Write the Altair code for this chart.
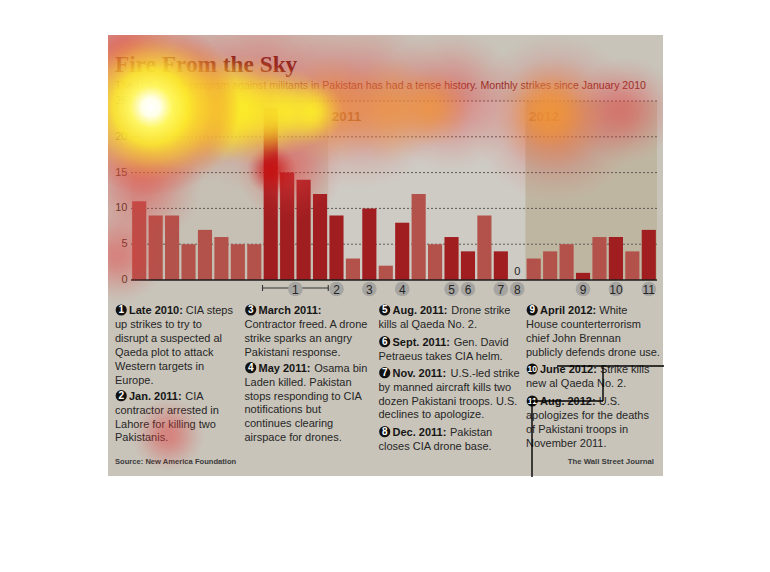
import math
import altair as alt
import pandas as pd

# ---------------- data ----------------
month_names = ["Jan", "Feb", "Mar", "Apr", "May", "Jun", "Jul", "Aug", "Sep", "Oct", "Nov", "Dec"]
months = [f"{m} {y}" for y in (2010, 2011, 2012) for m in month_names][:32]
strikes = [11, 9, 9, 5, 7, 6, 5, 5, 24, 15, 14, 12,
           9, 3, 10, 2, 8, 12, 5, 6, 4, 9, 4, 0,
           3, 4, 5, 1, 6, 6, 4, 7]
event_months = ["Sep 2010", "Oct 2010", "Nov 2010", "Dec 2010", "Jan 2011", "Mar 2011",
                "May 2011", "Aug 2011", "Sep 2011", "Nov 2011", "Dec 2011",
                "Apr 2012", "Jun 2012", "Aug 2012"]
years = ["2010", "2011", "2012"]
year_first = ["Jan 2010", "Jan 2011", "Jan 2012"]
year_last = ["Dec 2010", "Dec 2011", "Aug 2012"]
year_colors = ["#c6c0b4", "#cecbc4", "#bfb6a2"]
y_ticks = [0, 5, 10, 15, 20, 25]
marker_labels = [str(k) for k in range(1, 12)]
marker_start = ["Sep 2010", "Jan 2011", "Mar 2011", "May 2011", "Aug 2011", "Sep 2011",
                "Nov 2011", "Dec 2011", "Apr 2012", "Jun 2012", "Aug 2012"]
marker_end = ["Dec 2010", "Jan 2011", "Mar 2011", "May 2011", "Aug 2011", "Sep 2011",
              "Nov 2011", "Dec 2011", "Apr 2012", "Jun 2012", "Aug 2012"]

title_text = "Fire From the Sky"
subtitle_text = ("The U.S. drone program against militants in Pakistan has had a tense history. "
                 "Monthly strikes since January 2010")
source_text = "Source: New America Foundation"
credit_text = "The Wall Street Journal"

note_numbers = ["1", "2", "3", "4", "5", "6", "7", "8", "9", "10", "11"]
note_column = [0, 0, 1, 1, 2, 2, 2, 2, 3, 3, 3]
note_heads = ["Late 2010:", "Jan. 2011:", "March 2011:", "May 2011:", "Aug. 2011:",
              "Sept. 2011:", "Nov. 2011:", "Dec. 2011:", "April 2012:", "June 2012:", "Aug. 2012:"]
note_first = ["CIA steps", "CIA", "", "Osama bin", "Drone strike", "Gen. David",
              "U.S.-led strike", "Pakistan", "White", "Strike kills", "U.S."]
note_rest = [
    ["up strikes to try to", "disrupt a suspected al", "Qaeda plot to attack",
     "Western targets in", "Europe."],
    ["contractor arrested in", "Lahore for killing two", "Pakistanis."],
    ["Contractor freed. A drone", "strike sparks an angry", "Pakistani response."],
    ["Laden killed. Pakistan", "stops responding to CIA", "notifications but",
     "continues clearing", "airspace for drones."],
    ["kills al Qaeda No. 2."],
    ["Petraeus takes CIA helm."],
    ["by manned aircraft kills two", "dozen Pakistani troops. U.S.", "declines to apologize."],
    ["closes CIA drone base."],
    ["House counterterrorism", "chief John Brennan", "publicly defends drone use."],
    ["new al Qaeda No. 2."],
    ["apologizes for the deaths", "of Pakistani troops in", "November 2011."],
]

# ---------------- styling / layout ----------------
PW, PH = 555, 441          # panel (plot area)
PANEL = "#c8c4ba"
DARK, LIGHT = "#a01d20", "#b3524b"
SANS = "Liberation Sans, Arial, sans-serif"
SERIF = "Liberation Serif, Times New Roman, serif"
TXT = "#262626"

X = alt.Scale(domain=[0, 32], range=[23, 549])
Y = alt.Scale(domain=[0, 25], range=[245, 66])

col_x = [7, 136.5, 270.5, 418]
note_top = [310, 395.7, 310, 367.7, 310, 341.7, 372.7, 431.7, 310, 369, 401]  # line centres (page)
LINE = 13.9
FS = 11

HB = {'A': 722, 'B': 722, 'C': 722, 'D': 722, 'E': 667, 'F': 611, 'G': 778, 'H': 722, 'I': 278,
      'J': 556, 'K': 722, 'L': 611, 'M': 833, 'N': 722, 'O': 778, 'P': 667, 'Q': 778, 'R': 722,
      'S': 667, 'T': 611, 'U': 722, 'V': 667, 'W': 944, 'X': 667, 'Y': 667, 'Z': 611,
      'a': 556, 'b': 611, 'c': 556, 'd': 611, 'e': 556, 'f': 333, 'g': 611, 'h': 611, 'i': 278,
      'j': 278, 'k': 556, 'l': 278, 'm': 889, 'n': 611, 'o': 611, 'p': 611, 'q': 611, 'r': 389,
      's': 556, 't': 333, 'u': 611, 'v': 556, 'w': 778, 'x': 556, 'y': 556, 'z': 500,
      ' ': 278, '.': 278, ':': 333, ',': 278, '-': 333}
for d in "0123456789":
    HB[d] = 556


def bold_width(s, size):
    return sum(HB.get(c, 556) for c in s) / 1000.0 * size


# heat-map blobs (page pixel coords of centre, radius)
blob_kind = (["red"] * 11 + ["core"] + ["orange"] * 6 + ["yellow"] * 5 + ["hot"])
blob_px = [160, 260, 360, 450, 555, 625, 140, 290, 168, 118, 120,
           272,
           255, 330, 390, 432, 552, 548,
           190, 218, 245, 285, 312,
           151]
blob_py = [100, 92, 100, 100, 118, 110, 185, 170, 435, 255, 45,
           170,
           112, 110, 110, 108, 115, 112,
           108, 109, 110, 111, 112,
           107]
blob_r = [110, 115, 100, 80, 95, 60, 70, 60, 42, 55, 60,
          28,
          60, 62, 60, 45, 64, 42,
          75, 60, 62, 50, 36,
          100]

# stray black trace lines (panel pixel coords)
trace_x = [449, 495, 424, 424]
trace_x2 = [556, 495, 495, 424]
trace_y = [331, 331, 366, 366]
trace_y2 = [331, 366, 366, 442]

# ---------------- tables ----------------
idx = {m: i for i, m in enumerate(months)}
bars_df = pd.DataFrame({
    "month": months, "i": range(len(months)), "strikes": strikes,
    "kind": ["event" if m in event_months else "other" for m in months],
})
bars_df["x0"] = bars_df["i"] + 0.07
bars_df["x1"] = bars_df["i"] + 0.93
bars_df["zero"] = 0

bands_df = pd.DataFrame({
    "year": years,
    "x0": [idx[m] for m in year_first],
    "x1": [idx[m] + 1 for m in year_last],
    "c": year_colors, "y0": 0, "y1": 25,
})
bands_df["lx"] = bands_df["x0"] + 0.22
bands_df["ly"] = 22.8

ticks_df = pd.DataFrame({"t": y_ticks, "lab": [str(t) for t in y_ticks]})

mk_df = pd.DataFrame({
    "lab": marker_labels,
    "cx": [(idx[a] + idx[b] + 1) / 2 for a, b in zip(marker_start, marker_end)],
    "a": [idx[a] for a in marker_start],
    "b": [idx[b] + 1 for b in marker_end],
})
bracket_df = mk_df[mk_df["b"] - mk_df["a"] > 1]

zero_df = bars_df[bars_df["strikes"] == 0].copy()
zero_df["cx"] = zero_df["i"] + 0.5
zero_df["ly"] = 1.15

heads, firsts, rests, circles = [], [], [], []
for k in range(len(note_numbers)):
    cx = col_x[note_column[k]]
    cy = note_top[k] - 35
    circles.append({"x": cx + 6.2, "y": cy, "n": note_numbers[k],
                    "fs": 10 if len(note_numbers[k]) == 1 else 8.5})
    heads.append({"x": cx + 14, "y": cy + 4, "t": note_heads[k]})
    if note_first[k]:
        firsts.append({"x": cx + 14 + bold_width(note_heads[k] + " ", FS), "y": cy + 4,
                       "t": note_first[k]})
    for j, line in enumerate(note_rest[k]):
        rests.append({"x": cx, "y": cy + 4 + LINE * (j + 1), "t": line})
circ_df = pd.DataFrame(circles)
head_df = pd.DataFrame(heads)
reg_df = pd.DataFrame(firsts + rests)

blob_df = pd.DataFrame({"kind": blob_kind, "x": blob_px, "y": blob_py, "r": blob_r})
blob_df["x"] = blob_df["x"] - 108
blob_df["y"] = blob_df["y"] - 35
blob_df["s"] = math.pi * blob_df["r"] ** 2
trace_df = pd.DataFrame({"x": trace_x, "x2": trace_x2, "y": trace_y, "y2": trace_y2})

one = pd.DataFrame({"a": [0]})

# ---------------- layers ----------------
def px(field):
    return alt.X(field, scale=None, axis=None)


def py(field):
    return alt.Y(field, scale=None, axis=None)


bands = alt.Chart(bands_df).mark_rect().encode(
    x=alt.X("x0:Q", scale=X, axis=None), x2="x1:Q",
    y=alt.Y("y0:Q", scale=Y, axis=None), y2="y1:Q",
    color=alt.Color("c:N", scale=None),
)
grid = alt.Chart(ticks_df[ticks_df["t"] > 0]).mark_rule(
    color="#5e5a55", strokeDash=[2, 2], strokeWidth=1).encode(
    y=alt.Y("t:Q", scale=Y, axis=None), x=alt.value(23), x2=alt.value(549))
bars = alt.Chart(bars_df).mark_rect().encode(
    x=alt.X("x0:Q", scale=X, axis=None), x2="x1:Q",
    y=alt.Y("strikes:Q", scale=Y, axis=None), y2="zero:Q",
    color=alt.Color("kind:N", scale=alt.Scale(domain=["event", "other"], range=[DARK, LIGHT]),
                    legend=None),
)
baseline = alt.Chart(ticks_df[ticks_df["t"] == 0]).mark_rule(
    color="#1c1c1c", strokeWidth=1.6).encode(
    y=alt.Y("t:Q", scale=Y, axis=None), x=alt.value(23), x2=alt.value(549))
ylabels = alt.Chart(ticks_df).mark_text(
    align="right", baseline="middle", font=SANS, fontSize=11, color="#4a3422").encode(
    y=alt.Y("t:Q", scale=Y, axis=None), x=alt.value(19.5), text="lab:N")
yearlabels = alt.Chart(bands_df).mark_text(
    align="left", baseline="middle", font=SANS, fontSize=13.5, fontWeight="bold",
    color="#7b5320").encode(
    x=alt.X("lx:Q", scale=X, axis=None), y=alt.Y("ly:Q", scale=Y, axis=None), text="year:N")
zerolab = alt.Chart(zero_df).mark_text(
    align="center", baseline="middle", font=SANS, fontSize=11, color="#222").encode(
    x=alt.X("cx:Q", scale=X, axis=None), y=alt.Y("ly:Q", scale=Y, axis=None),
    text="strikes:Q")
bracket = alt.Chart(bracket_df).mark_rule(color="#333", strokeWidth=1.1).encode(
    x=alt.X("a:Q", scale=X, axis=None), x2="b:Q", y=alt.value(253))
cap_a = alt.Chart(bracket_df).mark_rule(color="#333", strokeWidth=1.1).encode(
    x=alt.X("a:Q", scale=X, axis=None), y=alt.value(250), y2=alt.value(256))
cap_b = alt.Chart(bracket_df).mark_rule(color="#333", strokeWidth=1.1).encode(
    x=alt.X("b:Q", scale=X, axis=None), y=alt.value(250), y2=alt.value(256))
mk_circ = alt.Chart(mk_df).mark_circle(size=215, color="#a6a5a1", opacity=1).encode(
    x=alt.X("cx:Q", scale=X, axis=None), y=alt.value(254))
mk_text = alt.Chart(mk_df).mark_text(
    align="center", baseline="middle", font=SANS, fontSize=12, color="#262626").encode(
    x=alt.X("cx:Q", scale=X, axis=None), y=alt.value(254.5), text="lab:N")

title = alt.Chart(one).mark_text(
    text=title_text, align="left", baseline="alphabetic", font=SERIF, fontSize=23.3,
    fontWeight="bold", color="#6b1a0c").encode(x=alt.value(7), y=alt.value(37))
subtitle = alt.Chart(one).mark_text(
    text=subtitle_text, align="left", baseline="alphabetic", font=SANS, fontSize=10.6,
    color="#8a2a22").encode(x=alt.value(7), y=alt.value(54))

n_circ = alt.Chart(circ_df).mark_circle(size=125, color="#111", opacity=1).encode(
    x=px("x:Q"), y=py("y:Q"))
n_text = alt.Chart(circ_df).mark_text(
    align="center", baseline="middle", font=SANS, fontWeight="bold", color="white").encode(
    x=px("x:Q"), y=py("y:Q"), text="n:N", size=alt.Size("fs:Q", scale=None, legend=None))
h_text = alt.Chart(head_df).mark_text(
    align="left", baseline="alphabetic", font=SANS, fontWeight="bold", fontSize=FS,
    color="#161616").encode(x=px("x:Q"), y=py("y:Q"), text="t:N")
r_text = alt.Chart(reg_df).mark_text(
    align="left", baseline="alphabetic", font=SANS, fontSize=FS, color=TXT).encode(
    x=px("x:Q"), y=py("y:Q"), text="t:N")
source = alt.Chart(one).mark_text(
    text=source_text, align="left", baseline="alphabetic", font=SANS, fontSize=7.6,
    fontWeight="bold", color="#3a3a3a").encode(x=alt.value(7), y=alt.value(429))
credit = alt.Chart(one).mark_text(
    text=credit_text, align="right", baseline="alphabetic", font=SANS, fontSize=7.8,
    fontWeight="bold", color="#3a3a3a").encode(x=alt.value(546), y=alt.value(429))


def soft(rgb, peak, k=2.0, n=8):
    r, g, b = rgb
    lo = math.exp(-k)
    stops = []
    for j in range(n):
        o = j / (n - 1)
        a = peak * (math.exp(-k * o * o) - lo) / (1 - lo)
        stops.append((o, f"rgba({r},{g},{b},{a:.3f})"))
    return stops


def grad(stops):
    return {"gradient": "radial", "x1": 0.5, "y1": 0.5, "r1": 0, "x2": 0.5, "y2": 0.5,
            "r2": 0.5, "stops": [{"offset": o, "color": c} for o, c in stops]}


GRADS = {
    "red": grad(soft((228, 60, 60), 0.48)),
    "core": grad(soft((200, 10, 10), 0.7)),
    "orange": grad(soft((240, 150, 55), 0.68)),
    "yellow": grad(soft((252, 238, 40), 0.88)),
    "hot": grad([(0, "rgba(255,255,255,1)"), (0.1, "rgba(255,255,235,1)"),
                 (0.24, "rgba(255,248,95,0.97)"), (0.42, "rgba(252,232,45,0.9)"),
                 (0.62, "rgba(246,180,50,0.6)"), (0.82, "rgba(232,95,60,0.28)"),
                 (1, "rgba(228,70,60,0)")]),
}

heat = []
for kind in ["red", "core", "orange", "yellow", "hot"]:
    heat.append(
        alt.Chart(blob_df[blob_df["kind"] == kind]).mark_circle(
            fill=GRADS[kind], opacity=1, clip=True, strokeWidth=0).encode(
            x=px("x:Q"), y=py("y:Q"), size=alt.Size("s:Q", scale=None, legend=None))
    )

trace = alt.Chart(trace_df).mark_rule(color="#000", strokeWidth=1.4).encode(
    x=px("x:Q"), x2="x2:Q", y=py("y:Q"), y2="y2:Q")

layers = [bands, grid, bars, baseline, ylabels, yearlabels, zerolab, bracket, cap_a, cap_b,
          mk_circ, mk_text, title, subtitle, n_circ, n_text, h_text, r_text, source, credit]
layers += heat + [trace]

chart = alt.layer(*layers).resolve_scale(
    x="independent", y="independent", color="independent", size="independent"
).properties(
    width=PW, height=PH, autosize="none",
    padding={"left": 100, "top": 27, "right": 99, "bottom": 88},
    background="white",
).configure_view(fill=PANEL, strokeWidth=0)

chart.save("out.html", embed_options={"renderer": "svg", "actions": False})
